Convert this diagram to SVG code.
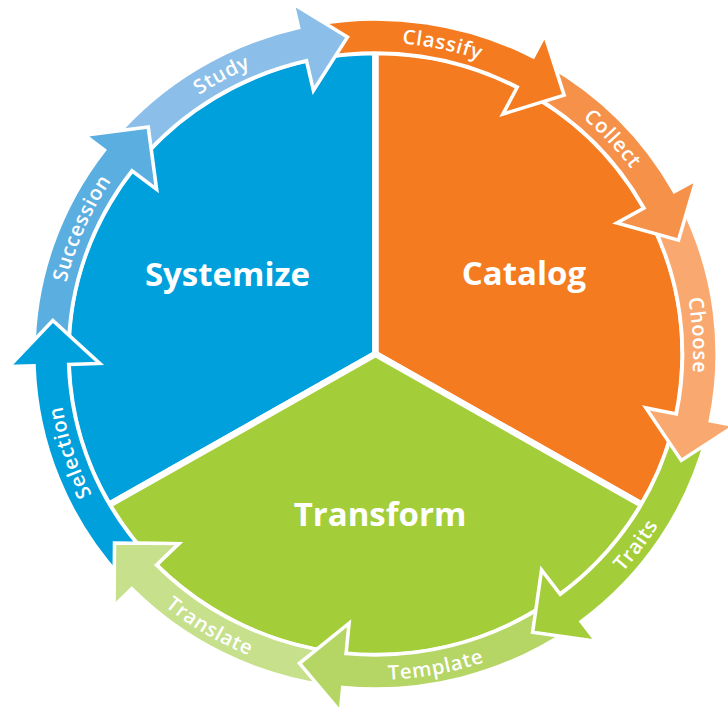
<svg xmlns="http://www.w3.org/2000/svg" width="728" height="711" viewBox="0 0 728 711">
  <style>
    .sector { stroke: #fff; stroke-width: 6.5; stroke-linejoin: miter; }
    .title { font-family: "Open Sans", "Liberation Sans", sans-serif; font-weight: 700; font-size: 33px; fill: #fff; text-anchor: middle; }
    .label { font-family: "Open Sans", "Liberation Sans", sans-serif; font-weight: 600; font-size: 20px; fill: #fff; letter-spacing: 0.7px; text-anchor: middle; }
  </style>
  <defs>
    <!-- baseline arcs for ring labels: clockwise over the top, counter-clockwise under the bottom -->
    <path id="arc-top" d="M-200.23,-238.62 A311.5,311.5 0 0 1 200.23,-238.62"/>
    <path id="arc-bottom" d="M-209.55,249.73 A326,326 0 0 0 209.55,249.73"/>
    <clipPath id="translate-head-clip">
      <circle cx="-224.67" cy="220.79" r="52"/>
    </clipPath>
  </defs>

  <rect width="728" height="711" fill="#fff"/>

  <!-- three sectors of the wheel -->
  <g id="node-systemize">
    <path class="sector" fill="#00A0DC" d="M375.5,354 L108.73,505 A308.04,302 0 0 1 375.5,52 Z"/>
    <text class="title" x="227.5" y="286">Systemize</text>
  </g>
  <g id="node-catalog">
    <path class="sector" fill="#F47B20" d="M375.5,354 L375.5,52 A308.04,302 0 0 1 642.27,505 Z"/>
    <text class="title" x="524" y="285">Catalog</text>
  </g>
  <g id="node-transform">
    <path class="sector" fill="#A3CD39" d="M375.5,354 L642.27,505 A308.04,302 0 0 1 108.73,505 Z"/>
    <text class="title" x="380" y="526">Transform</text>
  </g>

  <!-- ring of step arrows, drawn clockwise around the wheel -->
  <g id="connectors" transform="translate(375.5,354) scale(1.02,1)">
    <g id="cycle-arrows" stroke="#fff" stroke-width="3.5" stroke-linejoin="miter">
      <path id="arrow-translate" fill="#C6E08C" d="M-46.62,331.74 A335,335 0 0 1 -238.94,234.80 L-256.41,251.98 L-255.86,189.05 L-192.93,189.60 L-214.69,210.97 A301,301 0 0 0 -41.89,298.07 Z"/>
      <path id="arrow-template" fill="#B5D565" d="M189.75,276.08 A335,335 0 0 1 -32.11,333.46 L-34.46,357.85 L-74.49,309.28 L-25.93,269.26 L-28.85,299.62 A301,301 0 0 0 170.49,248.06 Z"/>
      <path id="arrow-traits" fill="#A3CD39" d="M325.05,81.04 A335,335 0 0 1 201.61,267.54 L216.35,287.11 L154.03,278.35 L162.79,216.03 L181.15,240.39 A301,301 0 0 0 292.06,72.82 Z"/>
      <path id="arrow-choose" fill="#F9A970" d="M299.80,-149.48 A335,335 0 0 1 328.27,66.79 L352.28,71.67 L299.80,106.41 L265.07,53.93 L294.96,60.01 A301,301 0 0 0 269.37,-134.31 Z"/>
      <path id="arrow-collect" fill="#F6914A" d="M167.5,-290.12 A335,335 0 0 1 293.00,-162.41 L314.43,-174.29 L297.08,-113.80 L236.58,-131.14 L263.26,-145.93 A301,301 0 0 0 150.5,-260.67 Z"/>
      <path id="arrow-classify" fill="#F47B20" d="M-61.05,-329.39 A335,335 0 0 1 154.69,-297.15 L166.00,-318.88 L184.92,-258.86 L124.90,-239.94 L138.99,-266.99 A301,301 0 0 0 -54.85,-295.96 Z"/>
      <path id="arrow-study" fill="#8BBEE8" d="M-256.62,-215.33 A335,335 0 0 1 -75.36,-326.41 L-80.87,-350.29 L-27.50,-316.94 L-60.85,-263.57 L-67.71,-293.29 A301,301 0 0 0 -230.58,-193.48 Z"/>
      <path id="arrow-succession" fill="#5BAEE0" d="M-334.99,-2.92 A335,335 0 0 1 -265.77,-203.93 L-285.21,-218.85 L-222.82,-227.06 L-214.60,-164.67 L-238.80,-183.24 A301,301 0 0 0 -300.99,-2.63 Z"/>
      <path id="arrow-selection" fill="#00A0DC" d="M-248.94,224.15 A335,335 0 0 1 -334.80,11.69 L-359.28,12.55 L-316.36,-33.48 L-270.34,9.44 L-300.82,10.50 A301,301 0 0 0 -223.67,201.40 Z"/>
      <!-- Translate head sits over the Selection tail, closing the loop -->
      <use href="#arrow-translate" clip-path="url(#translate-head-clip)"/>
    </g>
    <g id="cycle-labels" class="label">
      <text transform="rotate(-108.2)"><textPath href="#arc-top" startOffset="50%">Selection</textPath></text>
      <text transform="rotate(-66.4)"><textPath href="#arc-top" startOffset="50%">Succession</textPath></text>
      <text transform="rotate(-28.4)"><textPath href="#arc-top" startOffset="50%">Study</textPath></text>
      <text transform="rotate(12)"><textPath href="#arc-top" startOffset="50%">Classify</textPath></text>
      <text transform="rotate(47.2)"><textPath href="#arc-top" startOffset="50%">Collect</textPath></text>
      <text transform="rotate(86.6)"><textPath href="#arc-top" startOffset="50%">Choose</textPath></text>
      <text transform="rotate(-53.2)"><textPath href="#arc-bottom" startOffset="50%">Traits</textPath></text>
      <text transform="rotate(-10.7)"><textPath href="#arc-bottom" startOffset="50%">Template</textPath></text>
      <text transform="rotate(30.8)"><textPath href="#arc-bottom" startOffset="50%">Translate</textPath></text>
    </g>
  </g>
</svg>
